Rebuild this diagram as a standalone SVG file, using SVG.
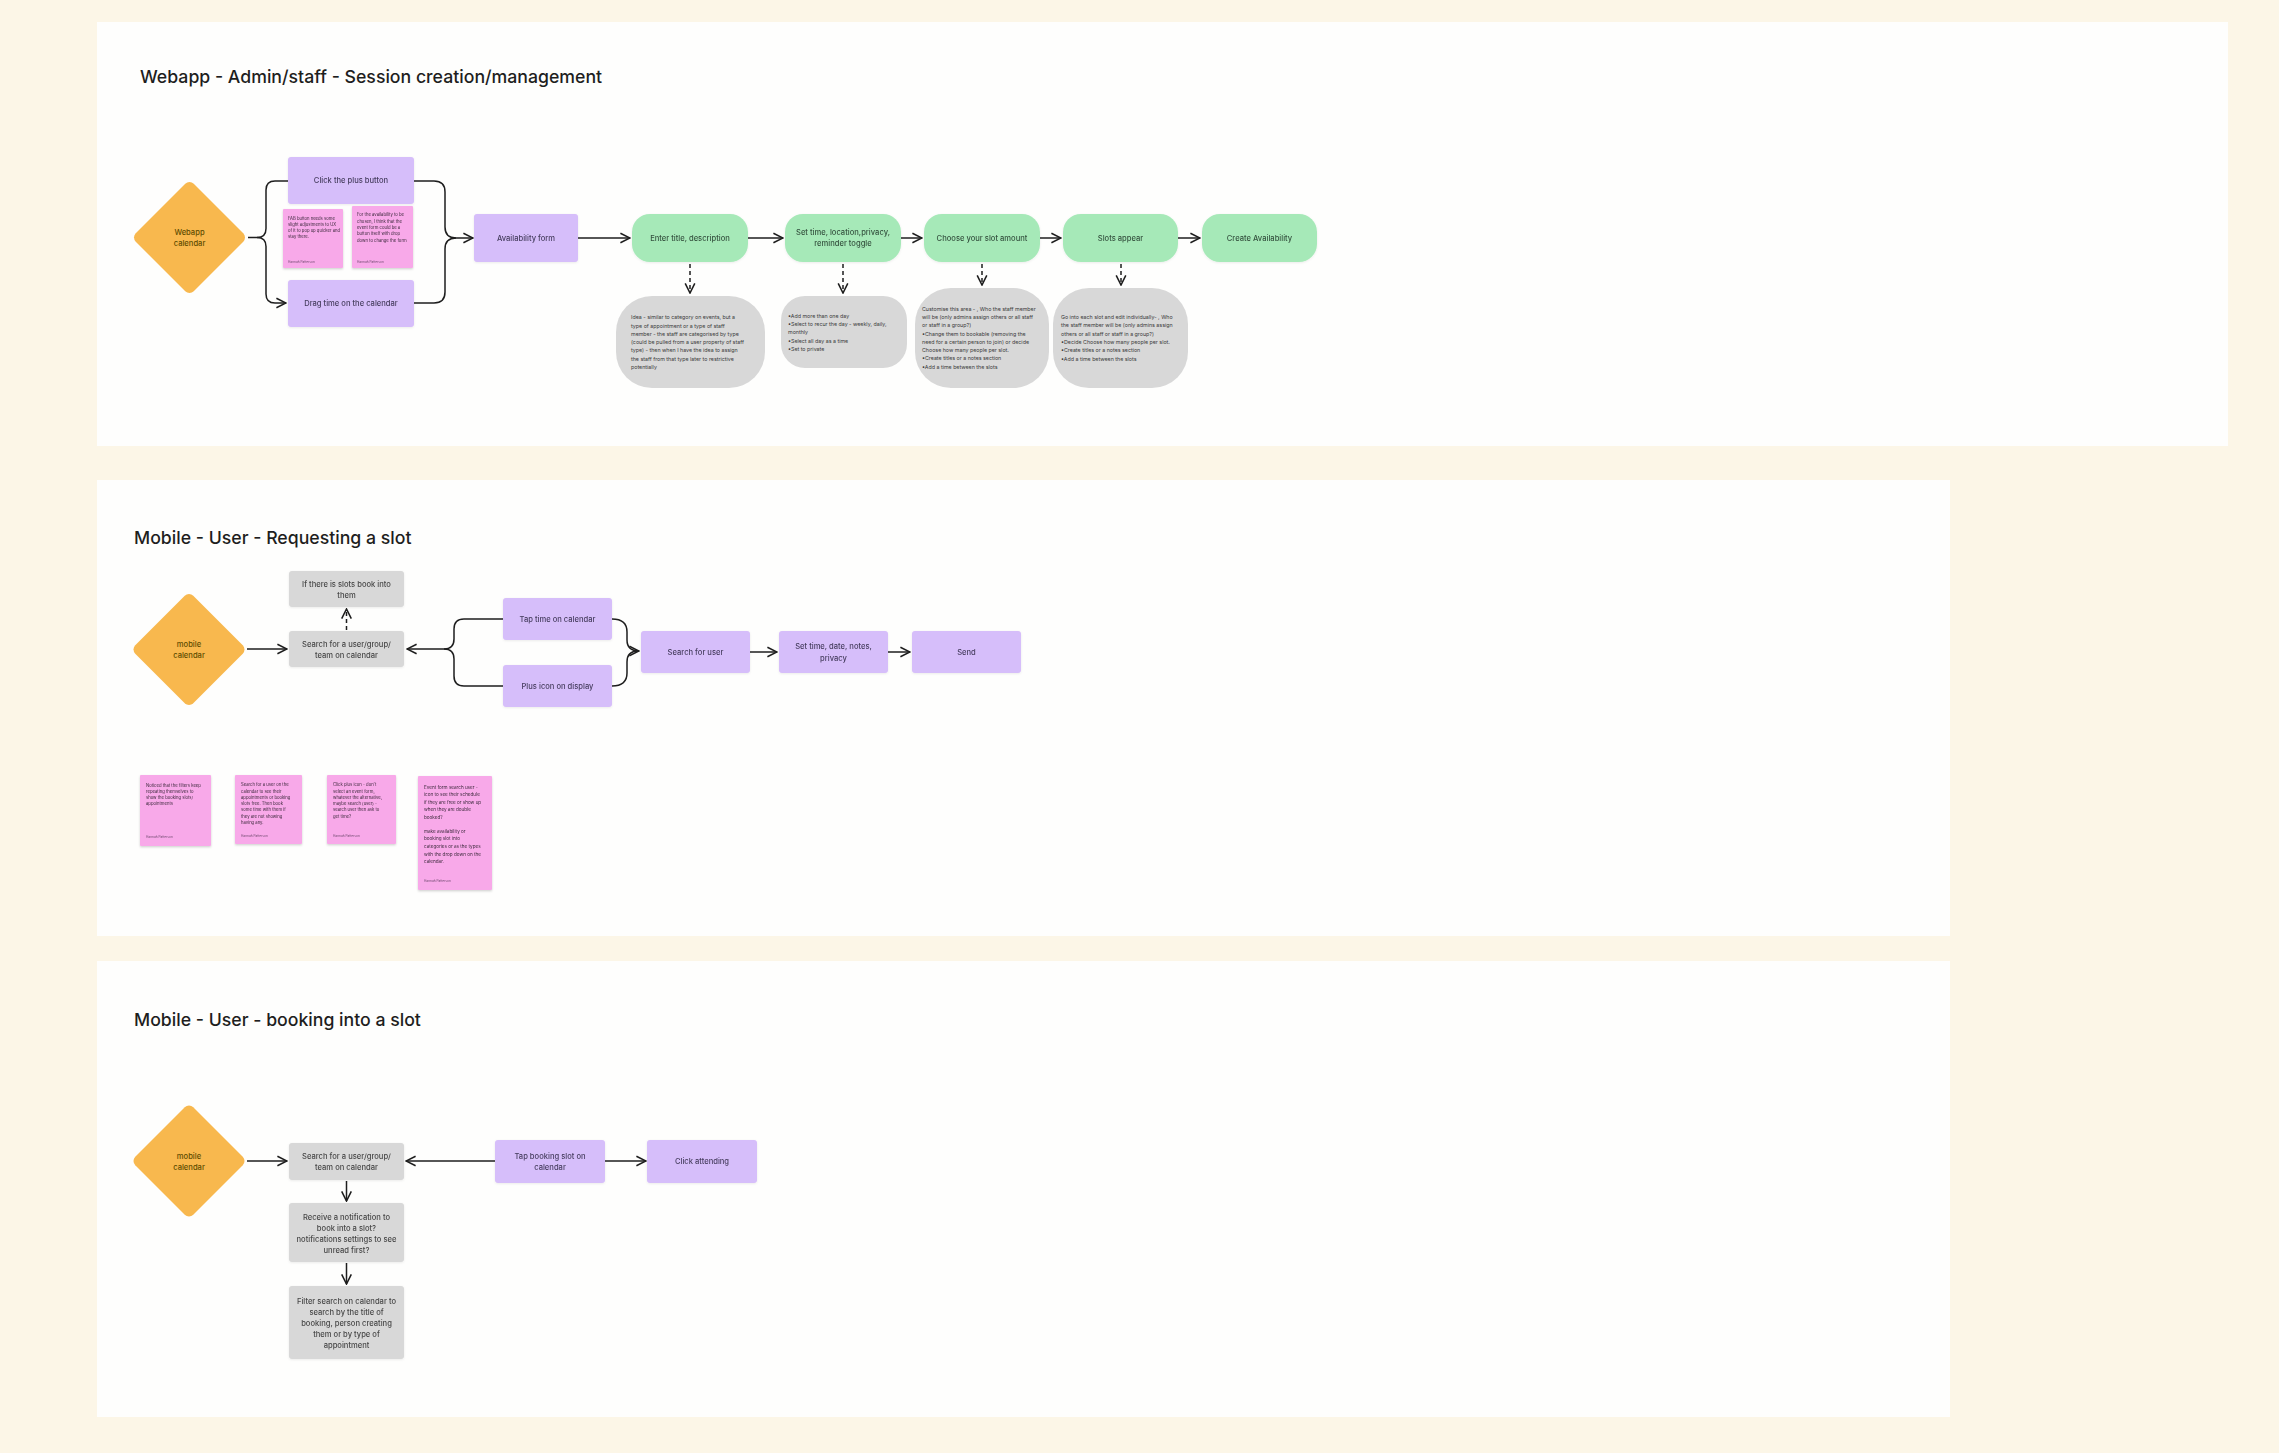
<svg xmlns="http://www.w3.org/2000/svg" width="2279" height="1453" viewBox="0 0 2279 1453">
<defs>
<style>
.bg{fill:#FCF6E7}
.panel{fill:#FEFEFD}
.title{font-family:Inter,"Noto Sans",sans-serif;font-size:17.7px;font-weight:500;fill:#1e1e1e}
.dia{fill:#F8B84E}
.pur{fill:#D6BEFA}
.grn{fill:#A6E9B8}
.gry{fill:#D8D8D8}
.pink{fill:#F8A9E9}
.lb{font-family:Inter,"Noto Sans",sans-serif;font-size:7.6px;font-weight:500;text-anchor:middle}
.ld{fill:#5e4c00}
.lp{fill:#463d5e}
.lg{fill:#35523f}
.lr{fill:#474747}
.nt{font-family:Inter,"Noto Sans",sans-serif;font-size:5.3px;fill:#3a3a3a}
.st{font-family:Inter,"Noto Sans",sans-serif;font-size:4.2px;fill:#3d2a3d}
.st4{font-family:Inter,"Noto Sans",sans-serif;font-size:4.6px;fill:#3d2a3d}
.au{font-family:Inter,"Noto Sans",sans-serif;font-size:3.2px;fill:#6e4a6e}
.c{fill:none;stroke:#1e1e1e;stroke-width:1.5}
.d{fill:none;stroke:#1e1e1e;stroke-width:1.5;stroke-dasharray:4 3}
</style>
<marker id="ah" viewBox="0 0 10 10" refX="9" refY="5" markerWidth="12" markerHeight="12" markerUnits="userSpaceOnUse" orient="auto">
<path d="M1,1 L9,5 L1,9" fill="none" stroke="#1e1e1e" stroke-width="1.3"/>
</marker>
<filter id="sh" x="-20%" y="-20%" width="140%" height="150%">
<feDropShadow dx="0" dy="1.2" stdDeviation="1.2" flood-color="#000" flood-opacity="0.18"/>
</filter>
<filter id="sh2" x="-10%" y="-10%" width="120%" height="130%">
<feDropShadow dx="0" dy="0.8" stdDeviation="0.8" flood-color="#000" flood-opacity="0.08"/>
</filter>
</defs>

<rect class="bg" x="0" y="0" width="2279" height="1453"/>
<g id="panels">
<rect class="panel" x="97" y="22" width="2131" height="424"/>
<rect class="panel" x="97" y="480" width="1853" height="456"/>
<rect class="panel" x="97" y="961" width="1853" height="456"/>
</g>
<g id="titles">
<text class="title" x="140" y="83">Webapp - Admin/staff - Session creation/management</text>
<text class="title" x="134" y="544">Mobile - User - Requesting a slot</text>
<text class="title" x="134" y="1026">Mobile - User - booking into a slot</text>
</g>

<g id="connectors">
<!-- section 1 -->
<path class="c" d="M248,237.5 H257 Q266,237.5 266,228.5 V190 Q266,181 275,181 H288"/>
<path class="c" d="M257,237.5 Q266,237.5 266,246.5 V294 Q266,303 275,303 H286" marker-end="url(#ah)"/>
<path class="c" d="M414,181 H434 Q445,181 445,192 V227 Q445,238 456,238 H473" marker-end="url(#ah)"/>
<path class="c" d="M414,303 H434 Q445,303 445,292 V249 Q445,238 456,238"/>
<path class="c" d="M578,238 H630" marker-end="url(#ah)"/>
<path class="c" d="M748,238 H783" marker-end="url(#ah)"/>
<path class="c" d="M901,238 H922" marker-end="url(#ah)"/>
<path class="c" d="M1040,238 H1061" marker-end="url(#ah)"/>
<path class="c" d="M1178,238 H1200" marker-end="url(#ah)"/>
<path class="d" d="M690,264 V293" marker-end="url(#ah)"/>
<path class="d" d="M843,264 V293" marker-end="url(#ah)"/>
<path class="d" d="M982,264 V285" marker-end="url(#ah)"/>
<path class="d" d="M1121,264 V285" marker-end="url(#ah)"/>
<!-- section 2 -->
<path class="c" d="M247,649 H287" marker-end="url(#ah)"/>
<path class="d" d="M346.5,630 V609" marker-end="url(#ah)"/>
<path class="c" d="M503,619 H464 Q454,619 454,629 V639 Q454,649 444,649 H407" marker-end="url(#ah)"/>
<path class="c" d="M503,686 H464 Q454,686 454,676 V659 Q454,649 444,649"/>
<path class="c" d="M612,619 Q627,619 627,632 V640 Q627,651 639,651" marker-end="url(#ah)"/>
<path class="c" d="M612,686 Q627,686 627,673 V662 Q627,651 638,651"/>
<path class="c" d="M750,652 H777" marker-end="url(#ah)"/>
<path class="c" d="M888,652 H910" marker-end="url(#ah)"/>
<!-- section 3 -->
<path class="c" d="M247,1161 H287" marker-end="url(#ah)"/>
<path class="c" d="M495,1161 H406" marker-end="url(#ah)"/>
<path class="c" d="M605,1161 H646" marker-end="url(#ah)"/>
<path class="c" d="M346.5,1181 V1201" marker-end="url(#ah)"/>
<path class="c" d="M346.5,1263 V1284" marker-end="url(#ah)"/>
</g>

<!-- ===== Section 1 nodes ===== -->
<g id="webapp-calendar">
<rect class="dia" x="-41" y="-41" width="82" height="82" rx="6" transform="translate(189.5,237.5) rotate(45)"/>
<text class="lb ld" x="189.5" y="234.8">Webapp</text>
<text class="lb ld" x="189.5" y="246.3">calendar</text>
</g>
<g id="click-plus" filter="url(#sh2)">
<rect class="pur" x="288" y="157" width="126" height="47" rx="3"/>
<text class="lb lp" x="351" y="183.2">Click the plus button</text>
</g>
<g id="sticky-fab" filter="url(#sh)">
<rect class="pink" x="283" y="209" width="60" height="59" rx="1"/>
<text class="st" x="288" y="219.5">FAB button needs some</text>
<text class="st" x="288" y="225.5">slight adjustments to UX</text>
<text class="st" x="288" y="231.5">of it to pop up quicker and</text>
<text class="st" x="288" y="237.5">stay there.</text>
<text class="au" x="288" y="263">Hannah Patterson</text>
</g>
<g id="sticky-availability" filter="url(#sh)">
<rect class="pink" x="352" y="206" width="61" height="62" rx="1"/>
<text class="st" x="357" y="216.2">For the availability to be</text>
<text class="st" x="357" y="222.5">chosen, I think that the</text>
<text class="st" x="357" y="228.8">event form could be a</text>
<text class="st" x="357" y="235.3">button itself with drop</text>
<text class="st" x="357" y="241.7">down to change the form</text>
<text class="au" x="357" y="263">Hannah Patterson</text>
</g>
<g id="drag-time" filter="url(#sh2)">
<rect class="pur" x="288" y="280" width="126" height="47" rx="3"/>
<text class="lb lp" x="351" y="306.2">Drag time on the calendar</text>
</g>
<g id="availability-form" filter="url(#sh2)">
<rect class="pur" x="474" y="214" width="104" height="48" rx="3"/>
<text class="lb lp" x="526" y="240.6">Availability form</text>
</g>
<g id="enter-title" filter="url(#sh2)">
<rect class="grn" x="632" y="214" width="116" height="48" rx="18"/>
<text class="lb lg" x="690" y="240.6">Enter title, description</text>
</g>
<g id="set-time" filter="url(#sh2)">
<rect class="grn" x="785" y="214" width="116" height="48" rx="18"/>
<text class="lb lg" x="843" y="235">Set time, location,privacy,</text>
<text class="lb lg" x="843" y="246.3">reminder toggle</text>
</g>
<g id="choose-slot" filter="url(#sh2)">
<rect class="grn" x="924" y="214" width="116" height="48" rx="18"/>
<text class="lb lg" x="982" y="240.6">Choose your slot amount</text>
</g>
<g id="slots-appear" filter="url(#sh2)">
<rect class="grn" x="1063" y="214" width="115" height="48" rx="18"/>
<text class="lb lg" x="1120.5" y="240.6">Slots appear</text>
</g>
<g id="create-availability" filter="url(#sh2)">
<rect class="grn" x="1202" y="214" width="115" height="48" rx="18"/>
<text class="lb lg" x="1259.5" y="240.6">Create Availability</text>
</g>
<g id="note-idea">
<rect class="gry" x="616" y="296" width="149" height="92" rx="36"/>
<text class="nt" x="631" y="319.2">Idea - similar to category on events, but a</text>
<text class="nt" x="631" y="327.5">type of appointment or a type of staff</text>
<text class="nt" x="631" y="335.8">member - the staff are categorised by type</text>
<text class="nt" x="631" y="344.1">(could be pulled from a user property of staff</text>
<text class="nt" x="631" y="352.4">type) - then when I have the idea to assign</text>
<text class="nt" x="631" y="360.7">the staff from that type later to restrictive</text>
<text class="nt" x="631" y="369">potentially</text>
</g>
<g id="note-recur">
<rect class="gry" x="781" y="296" width="126" height="72" rx="24"/>
<text class="nt" x="788" y="317.6">•Add more than one day</text>
<text class="nt" x="788" y="325.9">•Select to recur the day - weekly, daily,</text>
<text class="nt" x="788" y="334.2">monthly</text>
<text class="nt" x="788" y="342.5">•Select all day as a time</text>
<text class="nt" x="788" y="350.8">•Set to private</text>
</g>
<g id="note-customise">
<rect class="gry" x="915" y="288" width="134" height="100" rx="36"/>
<text class="nt" x="922" y="310.6">Customise this area - , Who the staff member</text>
<text class="nt" x="922" y="318.9">will be (only admins assign others or all staff</text>
<text class="nt" x="922" y="327.2">or staff in a group?)</text>
<text class="nt" x="922" y="335.5">•Change them to bookable (removing the</text>
<text class="nt" x="922" y="343.8">need for a certain person to join) or decide</text>
<text class="nt" x="922" y="352.1">Choose how many people per slot.</text>
<text class="nt" x="922" y="360.4">•Create titles or a notes section</text>
<text class="nt" x="922" y="368.7">•Add a time between the slots</text>
</g>
<g id="note-slots">
<rect class="gry" x="1053" y="288" width="135" height="100" rx="36"/>
<text class="nt" x="1061" y="319">Go into each slot and edit individually- , Who</text>
<text class="nt" x="1061" y="327.3">the staff member will be (only admins assign</text>
<text class="nt" x="1061" y="335.6">others or all staff or staff in a group?)</text>
<text class="nt" x="1061" y="343.9">•Decide Choose how many people per slot.</text>
<text class="nt" x="1061" y="352.2">•Create titles or a notes section</text>
<text class="nt" x="1061" y="360.5">•Add a time between the slots</text>
</g>

<!-- ===== Section 2 nodes ===== -->
<g id="mobile-calendar-1">
<rect class="dia" x="-41" y="-41" width="82" height="82" rx="6" transform="translate(189,649.5) rotate(45)"/>
<text class="lb ld" x="189" y="646.6">mobile</text>
<text class="lb ld" x="189" y="657.9">calendar</text>
</g>
<g id="search-user-group-1" filter="url(#sh2)">
<rect class="gry" x="289" y="631" width="115" height="36" rx="3"/>
<text class="lb lr" x="346.5" y="646.6">Search for a user/group/</text>
<text class="lb lr" x="346.5" y="657.6">team on calendar</text>
</g>
<g id="if-slots" filter="url(#sh2)">
<rect class="gry" x="289" y="571" width="115" height="36" rx="3"/>
<text class="lb lr" x="346.5" y="586.6">If there is slots book into</text>
<text class="lb lr" x="346.5" y="597.6">them</text>
</g>
<g id="tap-time" filter="url(#sh2)">
<rect class="pur" x="503" y="598" width="109" height="42" rx="3"/>
<text class="lb lp" x="557.5" y="621.6">Tap time on calendar</text>
</g>
<g id="plus-icon" filter="url(#sh2)">
<rect class="pur" x="503" y="665" width="109" height="42" rx="3"/>
<text class="lb lp" x="557.5" y="688.6">Plus icon on display</text>
</g>
<g id="search-for-user" filter="url(#sh2)">
<rect class="pur" x="641" y="631" width="109" height="42" rx="3"/>
<text class="lb lp" x="695.5" y="654.6">Search for user</text>
</g>
<g id="set-time-date" filter="url(#sh2)">
<rect class="pur" x="779" y="631" width="109" height="42" rx="3"/>
<text class="lb lp" x="833.5" y="649.3">Set time, date, notes,</text>
<text class="lb lp" x="833.5" y="660.6">privacy</text>
</g>
<g id="send" filter="url(#sh2)">
<rect class="pur" x="912" y="631" width="109" height="42" rx="3"/>
<text class="lb lp" x="966.5" y="654.6">Send</text>
</g>
<g id="sticky-filters" filter="url(#sh)">
<rect class="pink" x="140" y="775" width="71" height="71" rx="1"/>
<text class="st" x="146" y="786.5">Noticed that the filters keep</text>
<text class="st" x="146" y="792.5">repeating themselves to</text>
<text class="st" x="146" y="798.5">show the booking slots/</text>
<text class="st" x="146" y="804.5">appointments</text>
<text class="au" x="146" y="838">Hannah Patterson</text>
</g>
<g id="sticky-search" filter="url(#sh)">
<rect class="pink" x="235" y="775" width="67" height="69" rx="1"/>
<text class="st" x="241" y="786.2">Search for a user on the</text>
<text class="st" x="241" y="792.5">calendar to see their</text>
<text class="st" x="241" y="798.8">appointments or booking</text>
<text class="st" x="241" y="805.1">slots free. Then book</text>
<text class="st" x="241" y="811.4">some time with them if</text>
<text class="st" x="241" y="817.7">they are not showing</text>
<text class="st" x="241" y="824">having any.</text>
<text class="au" x="241" y="837">Hannah Patterson</text>
</g>
<g id="sticky-plus" filter="url(#sh)">
<rect class="pink" x="327" y="775" width="69" height="69" rx="1"/>
<text class="st" x="333" y="786.2">Click plus icon - don't</text>
<text class="st" x="333" y="792.5">select an event form,</text>
<text class="st" x="333" y="798.8">whatever the alternative,</text>
<text class="st" x="333" y="805.1">maybe search (user) -</text>
<text class="st" x="333" y="811.4">search user then ask to</text>
<text class="st" x="333" y="817.7">get time?</text>
<text class="au" x="333" y="837">Hannah Patterson</text>
</g>
<g id="sticky-event-form" filter="url(#sh)">
<rect class="pink" x="418" y="776" width="74" height="114" rx="1"/>
<text class="st4" x="424" y="788.6">Event form search user -</text>
<text class="st4" x="424" y="796.2">icon to see their schedule</text>
<text class="st4" x="424" y="803.8">if they are free or show up</text>
<text class="st4" x="424" y="811.4">when they are double</text>
<text class="st4" x="424" y="819">booked?</text>
<text class="st4" x="424" y="832.8">make availability or</text>
<text class="st4" x="424" y="840.4">booking slot into</text>
<text class="st4" x="424" y="848">categories or as the types</text>
<text class="st4" x="424" y="855.6">with the drop down on the</text>
<text class="st4" x="424" y="863.2">calendar.</text>
<text class="au" x="424" y="882">Hannah Patterson</text>
</g>

<!-- ===== Section 3 nodes ===== -->
<g id="mobile-calendar-2">
<rect class="dia" x="-41" y="-41" width="82" height="82" rx="6" transform="translate(189,1161) rotate(45)"/>
<text class="lb ld" x="189" y="1158.6">mobile</text>
<text class="lb ld" x="189" y="1169.6">calendar</text>
</g>
<g id="search-user-group-2" filter="url(#sh2)">
<rect class="gry" x="289" y="1143" width="115" height="37" rx="3"/>
<text class="lb lr" x="346.5" y="1158.6">Search for a user/group/</text>
<text class="lb lr" x="346.5" y="1169.6">team on calendar</text>
</g>
<g id="tap-booking" filter="url(#sh2)">
<rect class="pur" x="495" y="1140" width="110" height="43" rx="3"/>
<text class="lb lp" x="550" y="1158.6">Tap booking slot  on</text>
<text class="lb lp" x="550" y="1169.6">calendar</text>
</g>
<g id="click-attending" filter="url(#sh2)">
<rect class="pur" x="647" y="1140" width="110" height="43" rx="3"/>
<text class="lb lp" x="702" y="1164.1">Click attending</text>
</g>
<g id="receive-notification" filter="url(#sh2)">
<rect class="gry" x="289" y="1203" width="115" height="59" rx="3"/>
<text class="lb lr" x="346.5" y="1219.6">Receive a notification to</text>
<text class="lb lr" x="346.5" y="1230.6">book into a slot?</text>
<text class="lb lr" x="346.5" y="1241.6">notifications settings to see</text>
<text class="lb lr" x="346.5" y="1252.6">unread first?</text>
</g>
<g id="filter-search" filter="url(#sh2)">
<rect class="gry" x="289" y="1286" width="115" height="73" rx="3"/>
<text class="lb lr" x="346.5" y="1303.6">Filter search on calendar to</text>
<text class="lb lr" x="346.5" y="1314.6">search by the title of</text>
<text class="lb lr" x="346.5" y="1325.6">booking, person creating</text>
<text class="lb lr" x="346.5" y="1336.6">them or by type of</text>
<text class="lb lr" x="346.5" y="1347.6">appointment</text>
</g>
</svg>
